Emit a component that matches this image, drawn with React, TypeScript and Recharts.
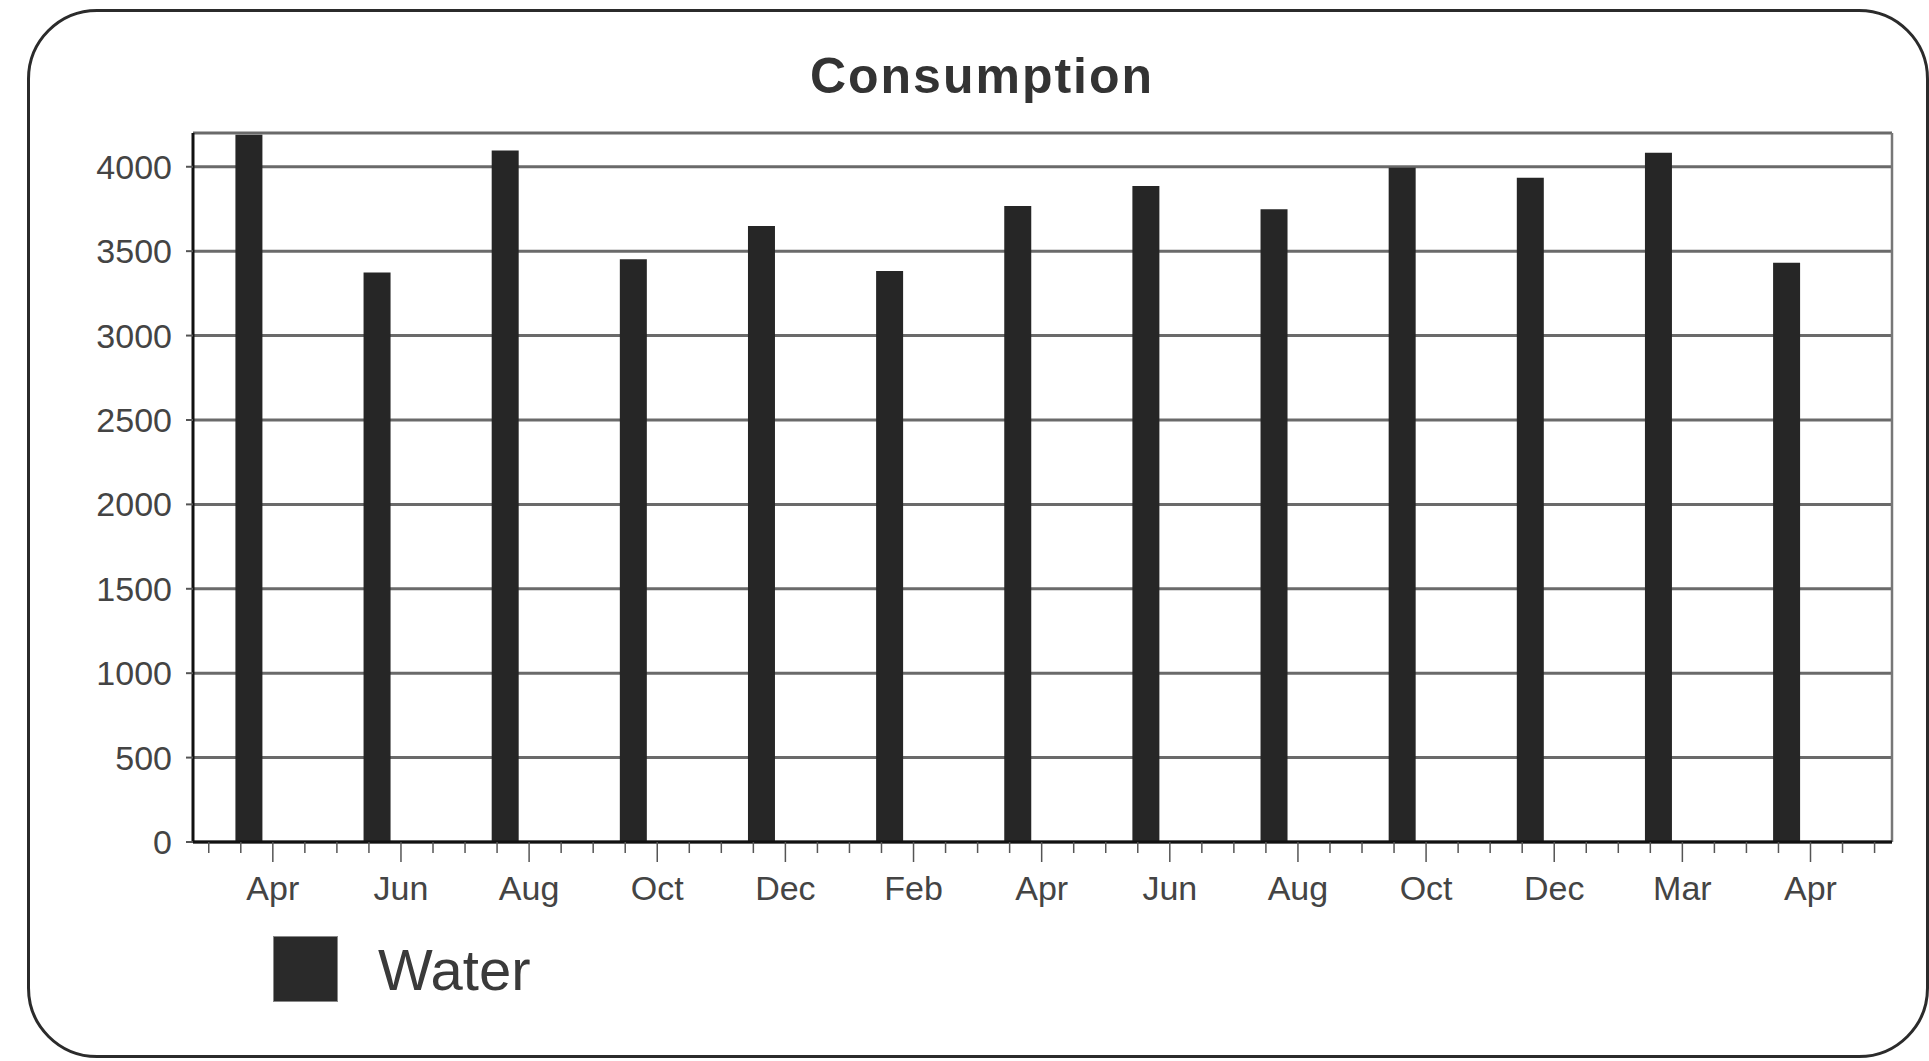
import { BarChart, Bar, XAxis, YAxis, CartesianGrid, Legend, ReferenceLine } from "recharts";

const months = ["Apr", "Jun", "Aug", "Oct", "Dec", "Feb", "Apr", "Jun", "Aug", "Oct", "Dec", "Mar", "Apr"];
const water = [4190, 3373, 4097, 3452, 3649, 3383, 3767, 3886, 3748, 3994, 3935, 4083, 3432];
const yTicks = [0, 500, 1000, 1500, 2000, 2500, 3000, 3500, 4000];

const data = months.map((month, i) => ({ i, month, water: water[i] }));

// x axis is numeric so bars can sit a little left of their labels, like the original
const xDomain: [number, number] = [-0.433, 12.826];
const labelShift = 0.19;
const xTicks: number[] = [];
for (let k = -2; k <= 51; k++) {
  const v = labelShift + k * 0.25;
  if (v >= xDomain[0] && v <= xDomain[1]) xTicks.push(v);
}

const MonthTick = (props: any) => {
  const { x, y, payload } = props;
  const k = Math.round((payload.value - labelShift) / 0.25);
  const major = k % 4 === 0;
  const label = major ? months[k / 4] : null;
  return (
    <g>
      <line x1={x} x2={x} y1={y} y2={y + (major ? 20 : 11)} stroke="#555" strokeWidth={1.5} />
      {label && (
        <text x={x} y={y + 58} textAnchor="middle" fill="#444" fontSize={34} fontFamily="Liberation Sans, Arial">
          {label}
        </text>
      )}
    </g>
  );
};

const LegendBox = () => (
  <div style={{ display: "flex", alignItems: "center", height: 70 }}>
    <div style={{ width: 63, height: 64, background: "#2a2a2a", border: "1px solid #888" }} />
    <span style={{ marginLeft: 40, fontSize: 58, color: "#3a3a3a", fontFamily: "Liberation Sans, Arial" }}>Water</span>
  </div>
);

export default function App() {
  return (
    <div
      style={{
        position: "absolute",
        left: 0,
        top: 0,
        width: 1929,
        height: 1061,
        background: "#fff",
        fontFamily: "Liberation Sans, Arial, sans-serif",
      }}
    >
      <div
        style={{
          position: "absolute",
          left: 27,
          top: 9,
          width: 1896,
          height: 1043,
          border: "3px solid #2b2b2b",
          borderRadius: 70,
        }}
      />
      <div
        style={{
          position: "absolute",
          left: 732,
          top: 46,
          width: 500,
          height: 60,
          lineHeight: "60px",
          textAlign: "center",
          fontSize: 50,
          fontWeight: "bold",
          letterSpacing: 2,
          color: "#333",
        }}
      >
        Consumption
      </div>
      <div style={{ position: "absolute", left: 0, top: 0 }}>
        <BarChart width={1929} height={1061} data={data} margin={{ top: 133, right: 37, bottom: 159, left: 113 }}>
          <CartesianGrid horizontal vertical={false} stroke="#6a6a6a" strokeWidth={3} />
          <XAxis
            type="number"
            dataKey="i"
            domain={xDomain}
            ticks={xTicks}
            interval={0}
            allowDataOverflow
            tick={<MonthTick />}
            tickLine={false}
            tickSize={0}
            tickMargin={0}
            height={60}
            axisLine={{ stroke: "#111", strokeWidth: 3 }}
          />
          <XAxis
            xAxisId="top"
            orientation="top"
            type="number"
            domain={xDomain}
            allowDataOverflow
            height={0}
            tick={false}
            tickLine={false}
            axisLine={{ stroke: "#666", strokeWidth: 3 }}
          />
          <YAxis
            type="number"
            domain={[0, 4200]}
            ticks={yTicks}
            interval={0}
            allowDataOverflow
            width={80}
            tickSize={7}
            tickMargin={14}
            tick={{ fill: "#444", fontSize: 34 }}
            tickLine={{ stroke: "#555", strokeWidth: 2 }}
            axisLine={{ stroke: "#111", strokeWidth: 3 }}
          />
          <ReferenceLine x={xDomain[1]} stroke="#777" strokeWidth={2.5} />
          <Legend
            layout="horizontal"
            align="center"
            verticalAlign="middle"
            wrapperStyle={{ left: 273, top: 934, width: 400, height: 70 }}
            content={() => <LegendBox />}
          />
          <Bar dataKey="water" name="Water" fill="#262626" barSize={27} isAnimationActive={false} />
        </BarChart>
      </div>
    </div>
  );
}
